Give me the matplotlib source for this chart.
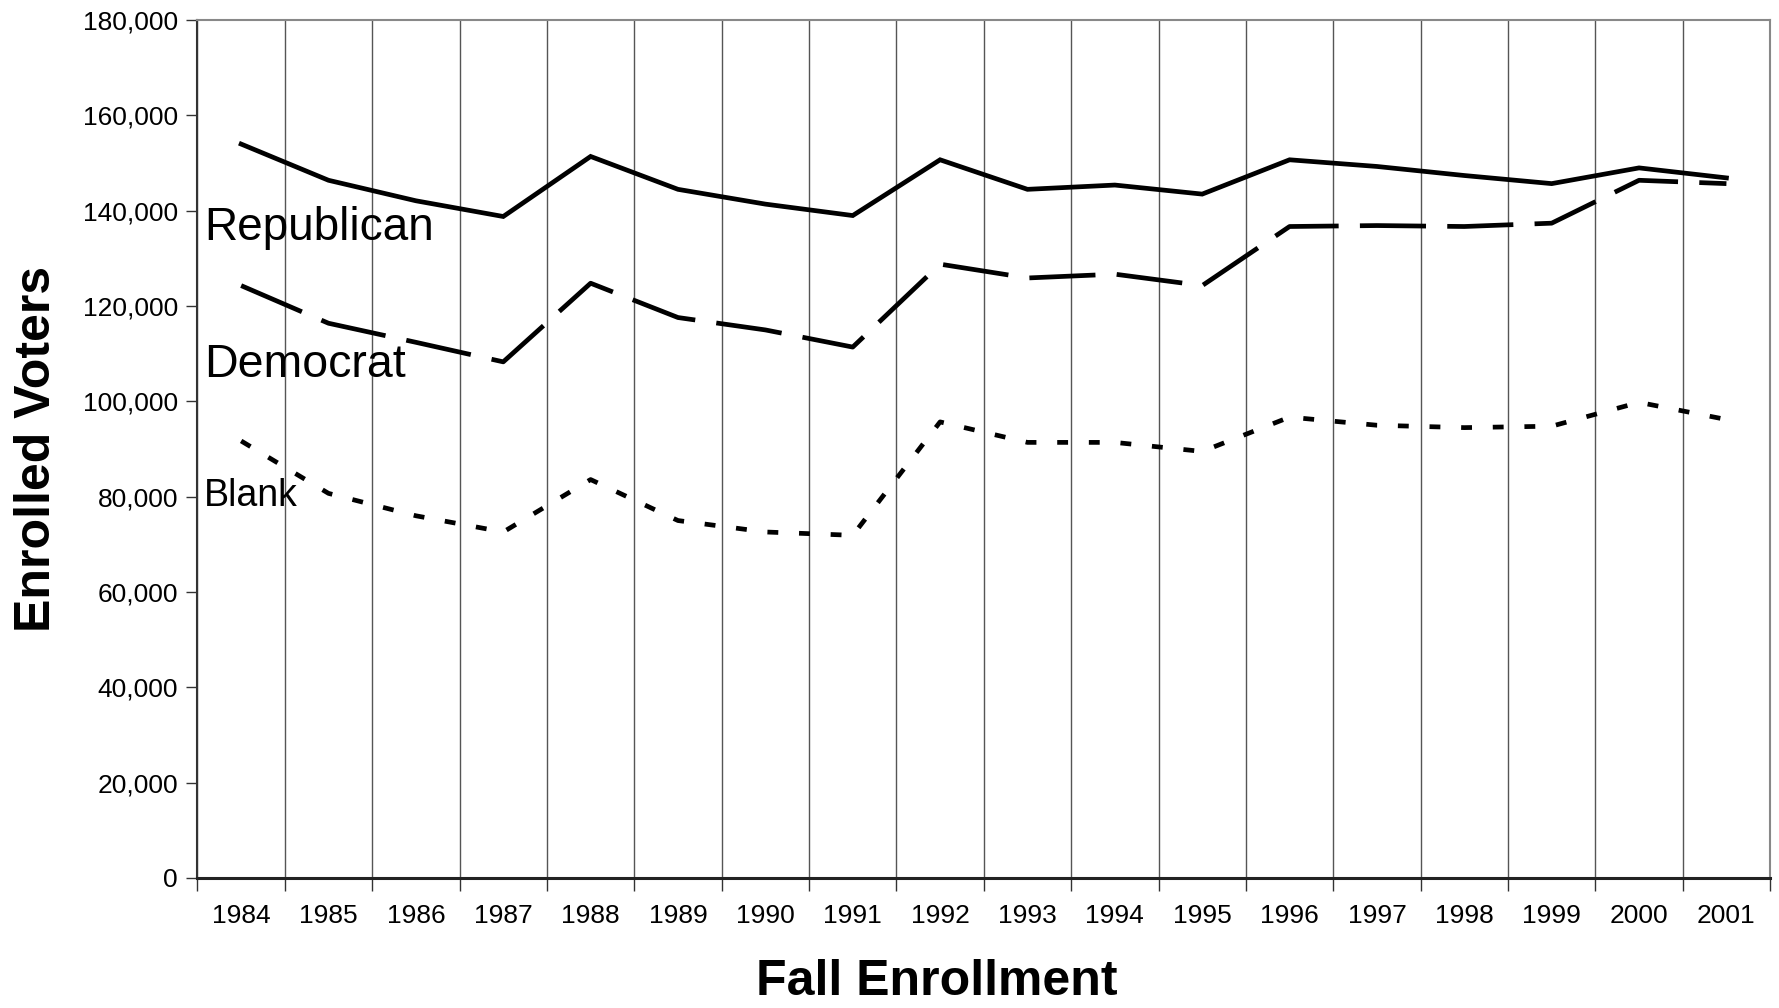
import numpy as np
import matplotlib
matplotlib.use("Agg")
import matplotlib.pyplot as plt
from matplotlib.ticker import FuncFormatter, FixedLocator

plt.rcParams['font.family'] = ['Liberation Sans', 'DejaVu Sans']

# Fall enrollment by party
years = [1984, 1985, 1986, 1987, 1988, 1989, 1990, 1991, 1992,
         1993, 1994, 1995, 1996, 1997, 1998, 1999, 2000, 2001]
republican = [154000, 146400, 142100, 138800, 151400, 144500, 141400, 139000, 150700,
              144500, 145400, 143500, 150700, 149300, 147400, 145700, 149000, 146900]
democrat = [124300, 116400, 112400, 108300, 124800, 117600, 115000, 111400, 128800,
            125900, 126700, 124300, 136700, 136900, 136700, 137400, 146400, 145700]
blank = [91700, 80700, 76000, 72600, 83600, 75000, 72600, 71900, 95700,
         91400, 91400, 89500, 96700, 95000, 94500, 94800, 99800, 96200]

fig = plt.figure(figsize=(17.79, 10.08), dpi=100)
ax = fig.add_axes([0.111, 0.129, 0.884, 0.851])

x = np.arange(len(years))
lw = 3.4
ax.plot(x, republican, color='black', lw=lw, solid_joinstyle='miter')
ax.plot(x, democrat, color='black', lw=lw, dashes=(14, 4.5))
ax.plot(x, blank, color='black', lw=lw, dashes=(2.3, 4.4))

# series labels
ax.text(-0.42, 136400, 'Republican', fontsize=33, va='center', ha='left')
ax.text(-0.42, 107600, 'Democrat', fontsize=33.5, va='center', ha='left')
ax.text(-0.43, 80200, 'Blank', fontsize=27, va='center', ha='left')

ax.set_xlim(-0.5, len(years) - 0.5)
ax.set_ylim(0, 180000)

# boundaries between categories get tick marks and gridlines, labels sit in the middle
ax.xaxis.set_major_locator(FixedLocator(np.arange(-0.5, len(years), 1.0)))
ax.xaxis.set_minor_locator(FixedLocator(x))
ax.set_xticklabels([])
ax.set_xticklabels([str(y) for y in years], minor=True)
ax.tick_params(axis='x', which='major', length=9, width=1, color='#333333', direction='out')
ax.tick_params(axis='x', which='minor', length=0, pad=19, labelsize=19)
ax.xaxis.grid(True, which='major', color='#555555', lw=1)

ax.set_yticks(np.arange(0, 180001, 20000))
ax.yaxis.set_major_formatter(FuncFormatter(lambda v, p: f'{int(v):,}'))
ax.tick_params(axis='y', length=8, width=1, color='#333333', direction='out', pad=6, labelsize=19)

for side in ['top', 'right']:
    ax.spines[side].set_color('#888888')
    ax.spines[side].set_linewidth(1.5)
ax.spines['left'].set_color('#333333')
ax.spines['left'].set_linewidth(1.5)
ax.spines['bottom'].set_color('#222222')
ax.spines['bottom'].set_linewidth(2.2)

ax.set_xlabel('Fall Enrollment', fontsize=36, fontweight='bold')
ax.xaxis.set_label_coords(0.47, -0.121)
ax.xaxis.label.set_va('center')
ax.set_ylabel('Enrolled Voters', fontsize=36, fontweight='bold')
ax.yaxis.set_label_coords(-0.102, 0.5)
ax.yaxis.label.set_va('center')

fig.savefig('out.png', dpi=100)
